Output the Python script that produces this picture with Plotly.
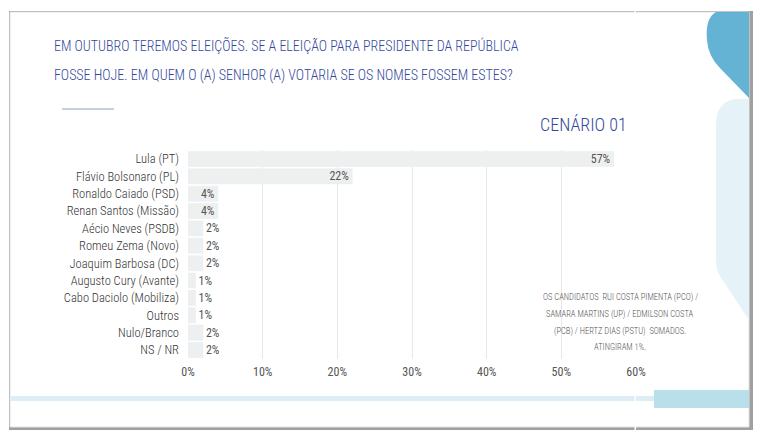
import plotly.graph_objects as go

candidatos = ["Lula (PT)", "Flávio Bolsonaro (PL)", "Ronaldo Caiado (PSD)", "Renan Santos (Missão)",
              "Aécio Neves (PSDB)", "Romeu Zema (Novo)", "Joaquim Barbosa (DC)", "Augusto Cury (Avante)",
              "Cabo Daciolo (Mobiliza)", "Outros", "Nulo/Branco", "NS / NR"]
votos = [57, 22, 4, 4, 2, 2, 2, 1, 1, 1, 2, 2]
nota = ["OS CANDIDATOS  RUI COSTA PIMENTA (PCO) /", "SAMARA MARTINS (UP) / EDMILSON COSTA",
        "(PCB) / HERTZ DIAS (PSTU)  SOMADOS.", "ATINGIRAM 1%."]

# page body has an 8px margin, so the figure is shifted by OFF
OFF = 8
W, H = 768 - OFF, 445 - OFF
FONT = "Roboto Condensed, Roboto, sans-serif"
NAVY = "#34489c"


def px(x, y):
    # screen pixel -> paper coords
    return (x - OFF) / W, 1 - (y - OFF) / H


def qpath(segs):
    out = []
    for seg in segs:
        conv = []
        for i in range(1, len(seg), 2):
            a, b = px(seg[i], seg[i + 1])
            conv.append(f"{a:.4f},{b:.4f}")
        out.append(seg[0] + " " + " ".join(conv))
    return " ".join(out) + " Z"


def rect(xa, ya, xb, yb, color, **kw):
    x0, y0 = px(xa, ya)
    x1, y1 = px(xb, yb)
    return dict(type="rect", xref="paper", yref="paper", x0=x0, y0=y0, x1=x1, y1=y1,
                fillcolor=color, layer="below", **kw)


text_pos = ["inside" if v >= 4 else "outside" for v in votos]

fig = go.Figure()
fig.add_trace(go.Bar(
    x=votos, y=candidatos, orientation="h",
    marker=dict(color="#eef0f0"),
    text=[f"{v}%" for v in votos], textposition=text_pos, textangle=0,
    insidetextanchor="end", cliponaxis=False, constraintext="none",
    textfont=dict(family=FONT, size=12, color="#555555"),
    hoverinfo="skip",
))

shapes = [
    rect(9, 11, 753, 430, "#a0a0a0", line=dict(width=0)),
    rect(10, 12, 749, 427, "white", line=dict(color="#e2e2e2", width=1)),
    dict(type="path", xref="paper", yref="paper", layer="below",
         path=qpath([("M", 749, 12), ("L", 716, 12), ("Q", 705, 18, 707, 40),
                     ("Q", 708, 56, 720, 68), ("L", 749, 98)]),
         fillcolor="#64b3d4", line=dict(width=0)),
    dict(type="path", xref="paper", yref="paper", layer="below",
         path=qpath([("M", 749, 99), ("L", 735, 99), ("Q", 716, 102, 716, 125),
                     ("L", 716, 262), ("Q", 716, 272, 724, 282), ("L", 749, 320)]),
         fillcolor="#e5f3f8", line=dict(width=0)),
    rect(11, 396, 716, 401, "#dcedf5", line=dict(width=0)),
    rect(654, 390, 749, 408, "#b9dfeb", line=dict(width=0)),
]
x0, y0 = px(62, 109)
x1, _ = px(114, 109)
shapes.append(dict(type="line", xref="paper", yref="paper", x0=x0, y0=y0, x1=x1, y1=y0,
                   line=dict(color="#b7bfd9", width=1.5)))
# hide the gridline at the right edge (60%)
shapes.append(dict(type="line", xref="x", yref="paper", x0=60, x1=60, y0=0, y1=1,
                   layer="between", line=dict(color="white", width=3)))

annotations = []
for txt, yy in [("EM OUTUBRO TEREMOS ELEIÇÕES. SE A ELEIÇÃO PARA PRESIDENTE DA REPÚBLICA", 45),
                ("FOSSE HOJE. EM QUEM O (A) SENHOR (A) VOTARIA SE OS NOMES FOSSEM ESTES?", 75)]:
    tx, ty = px(52, yy)
    annotations.append(dict(xref="paper", yref="paper", x=tx, y=ty, xanchor="left", yanchor="middle",
                            text=txt, showarrow=False,
                            font=dict(family=FONT, size=14, weight=300, color=NAVY)))
tx, ty = px(629, 124)
annotations.append(dict(xref="paper", yref="paper", x=tx, y=ty, xanchor="right", yanchor="middle",
                        text="CENÁRIO 01", showarrow=False,
                        font=dict(family=FONT, size=18, weight=300, color=NAVY)))
for txt, yy in zip(nota, [297, 314, 331, 347]):
    tx, ty = px(620, yy)
    annotations.append(dict(xref="paper", yref="paper", x=tx, y=ty, xanchor="center", yanchor="middle",
                            text=txt, showarrow=False,
                            font=dict(family=FONT, size=8.5, weight=300, color="#555555")))

xd0, _ = px(188, 0)
xd1, _ = px(636, 0)
_, yd1 = px(0, 150.3)
_, yd0 = px(0, 358.7)

fig.update_layout(
    width=W, height=H, margin=dict(l=0, r=0, t=0, b=0),
    paper_bgcolor="white", plot_bgcolor="rgba(0,0,0,0)",
    showlegend=False, bargap=0.13,
    font=dict(family=FONT, color="#444444"),
    xaxis=dict(domain=[xd0, xd1], range=[0, 60], dtick=10, ticksuffix="%", automargin=False,
               showgrid=True, gridcolor="#e8e8e8", zeroline=False, showline=False,
               tickfont=dict(family=FONT, size=12, color="#555555"), ticklabelstandoff=4),
    yaxis=dict(domain=[yd0, yd1], autorange="reversed", showgrid=False, showline=False, automargin=False,
               tickfont=dict(family=FONT, size=12.5, weight=300, color="#333333"), ticklabelstandoff=8),
    shapes=shapes, annotations=annotations,
)

fig.write_html("out.html")
